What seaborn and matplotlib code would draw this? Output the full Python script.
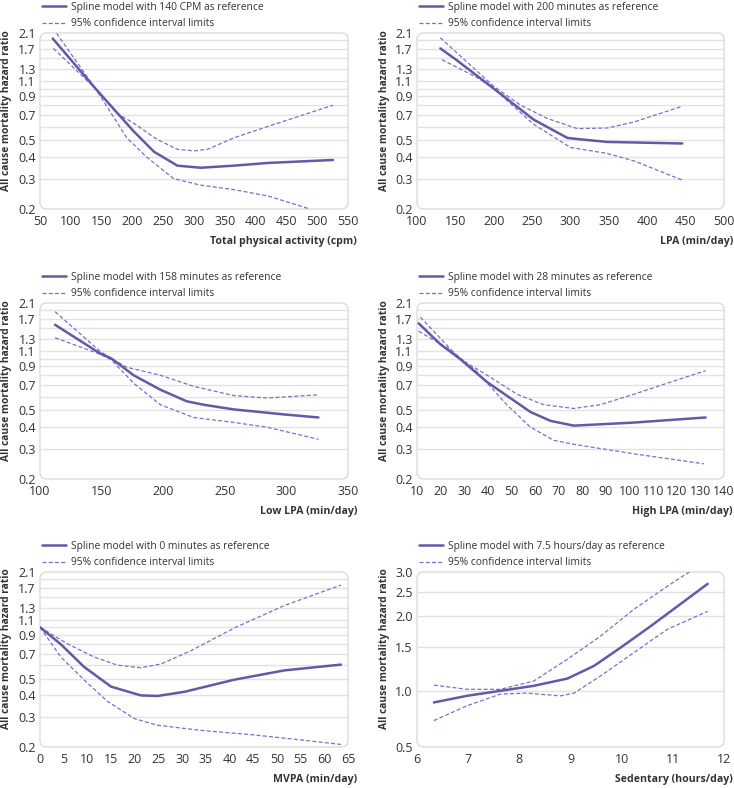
import numpy as np
import pandas as pd
import matplotlib
matplotlib.use("Agg")
import matplotlib.pyplot as plt
import seaborn as sns
from matplotlib.patches import FancyBboxPatch
from matplotlib.ticker import FixedLocator, FixedFormatter, NullLocator

sns.set_theme(style="white")
plt.rcParams['font.family'] = ['Open Sans', 'DejaVu Sans']

# ---------------- data ----------------
# Panel 1: Total physical activity (cpm)
p1_x_main = [70.7, 140, 202, 235, 273, 311, 365, 420, 525.5]
p1_y_main = [1.95, 1.0, 0.565, 0.43, 0.357, 0.347, 0.357, 0.37, 0.385]
p1_x_up = [77, 140, 175, 202, 240, 273, 300, 322, 365, 420, 525.5]
p1_y_up = [2.09, 1.0, 0.718, 0.63, 0.507, 0.444, 0.435, 0.444, 0.518, 0.603, 0.80]
p1_x_lo = [71.7, 140, 191, 224, 267, 311, 365, 420, 479, 487]
p1_y_lo = [1.71, 1.0, 0.517, 0.398, 0.30, 0.275, 0.259, 0.238, 0.205, 0.20]

# Panel 2: LPA (min/day)
p2_x_main = [130.4, 150, 200, 252, 296, 313, 348, 445.7]
p2_y_main = [1.71, 1.48, 1.0, 0.66, 0.517, 0.507, 0.49, 0.48]
p2_x_up = [130.4, 200, 235, 270, 309, 348, 383, 445.7]
p2_y_up = [1.97, 1.03, 0.80, 0.67, 0.585, 0.59, 0.64, 0.79]
p2_x_lo = [132.6, 178, 200, 209, 252, 300, 348, 383, 445.7]
p2_y_lo = [1.47, 1.16, 1.0, 0.92, 0.62, 0.455, 0.42, 0.38, 0.294]

# Panel 3: Low LPA (min/day)
p3_x_main = [112.2, 148.8, 158, 176, 197.6, 219, 232.5, 257, 298, 326]
p3_y_main = [1.57, 1.07, 1.0, 0.80, 0.66, 0.565, 0.54, 0.507, 0.474, 0.455]
p3_x_up = [112.2, 148.8, 158, 170.5, 197.6, 224.7, 257, 284, 326]
p3_y_up = [1.87, 1.1, 1.0, 0.89, 0.80, 0.69, 0.61, 0.59, 0.616]
p3_x_lo = [112.2, 148.8, 158, 176, 197.6, 224.7, 257, 284, 326]
p3_y_lo = [1.32, 1.06, 0.98, 0.72, 0.54, 0.455, 0.426, 0.40, 0.34]

# Panel 4: High LPA (min/day)
p4_x_main = [10.7, 19.9, 28, 39.7, 49.5, 58, 66.5, 76.4, 101.8, 132.2]
p4_y_main = [1.6, 1.21, 1.0, 0.73, 0.59, 0.49, 0.435, 0.408, 0.425, 0.455]
p4_x_up = [11.4, 28, 41, 52.4, 63.6, 76.4, 87.7, 101.8, 116, 132.2]
p4_y_up = [1.74, 1.0, 0.78, 0.62, 0.54, 0.513, 0.54, 0.62, 0.72, 0.85]
p4_x_lo = [10.7, 24, 35.3, 48, 58, 68, 76.4, 101.8, 131.5]
p4_y_lo = [1.44, 1.13, 0.84, 0.54, 0.40, 0.335, 0.318, 0.28, 0.245]

# Panel 5: MVPA (min/day)
p5_x_main = [0, 4.4, 9.3, 15, 21.3, 24.8, 30.5, 41, 51.6, 63.5]
p5_y_main = [1.0, 0.795, 0.587, 0.45, 0.40, 0.397, 0.42, 0.494, 0.56, 0.605]
p5_x_up = [0, 5.8, 11.4, 16.4, 21.3, 25.5, 31.9, 41, 51.6, 63.5]
p5_y_up = [1.0, 0.80, 0.67, 0.60, 0.58, 0.61, 0.73, 0.99, 1.34, 1.76]
p5_x_lo = [0, 4.4, 9.3, 14.2, 19.9, 24.8, 34, 44.6, 55.1, 63.5]
p5_y_lo = [1.0, 0.67, 0.493, 0.37, 0.293, 0.268, 0.25, 0.236, 0.22, 0.207]

# Panel 6: Sedentary (hours/day)
p6_x_main = [6.33, 6.98, 7.63, 8.28, 8.94, 9.46, 9.98, 10.57, 11.22, 11.68]
p6_y_main = [0.904, 0.961, 1.006, 1.053, 1.126, 1.265, 1.497, 1.825, 2.29, 2.69]
p6_x_up = [6.33, 6.98, 7.63, 8.28, 8.94, 9.59, 10.24, 10.89, 11.32]
p6_y_up = [1.06, 1.02, 1.02, 1.10, 1.345, 1.665, 2.13, 2.63, 3.0]
p6_x_lo = [6.33, 6.98, 7.63, 8.15, 8.8, 9.07, 9.59, 10.24, 10.89, 11.68]
p6_y_lo = [0.765, 0.877, 0.976, 0.985, 0.96, 0.985, 1.154, 1.43, 1.77, 2.09]

legend_main = [
    "Spline model with 140 CPM as reference",
    "Spline model with 200 minutes as reference",
    "Spline model with 158 minutes as reference",
    "Spline model with 28 minutes as reference",
    "Spline model with 0 minutes as reference",
    "Spline model with 7.5 hours/day as reference",
]
legend_ci = "95% confidence interval limits"
x_labels = ["Total physical activity (cpm)", "LPA (min/day)", "Low LPA (min/day)",
            "High LPA (min/day)", "MVPA (min/day)", "Sedentary (hours/day)"]
y_label = "All cause mortality hazard ratio"

x_ticks = [
    [50, 100, 150, 200, 250, 300, 350, 400, 450, 500, 550],
    [100, 150, 200, 250, 300, 350, 400, 450, 500],
    [100, 150, 200, 250, 300, 350],
    [10, 20, 30, 40, 50, 60, 70, 80, 90, 100, 110, 120, 130, 140],
    [0, 5, 10, 15, 20, 25, 30, 35, 40, 45, 50, 55, 60, 65],
    [6, 7, 8, 9, 10, 11, 12],
]
hr_ticks = [0.2, 0.3, 0.4, 0.5, 0.7, 0.9, 1.1, 1.3, 1.7, 2.1]
hr_tick_labels = ["0.2", "0.3", "0.4", "0.5", "0.7", "0.9", "1.1", "1.3", "1.7", "2.1"]
hr_grid = [0.3, 0.4, 0.5, 0.6, 0.7, 0.8, 0.9, 1.0, 1.1, 1.3, 1.5, 1.7, 1.9]
sed_ticks = [0.6, 1.0, 1.5, 2.0, 2.5, 3.0]
sed_tick_labels = ["0.5", "1.0", "1.5", "2.0", "2.5", "3.0"]
sed_grid = [1.0, 1.5, 2.0, 2.5]

panels = [
    (p1_x_main, p1_y_main, p1_x_up, p1_y_up, p1_x_lo, p1_y_lo),
    (p2_x_main, p2_y_main, p2_x_up, p2_y_up, p2_x_lo, p2_y_lo),
    (p3_x_main, p3_y_main, p3_x_up, p3_y_up, p3_x_lo, p3_y_lo),
    (p4_x_main, p4_y_main, p4_x_up, p4_y_up, p4_x_lo, p4_y_lo),
    (p5_x_main, p5_y_main, p5_x_up, p5_y_up, p5_x_lo, p5_y_lo),
    (p6_x_main, p6_y_main, p6_x_up, p6_y_up, p6_x_lo, p6_y_lo),
]

# ---------------- layout ----------------
W, H = 734, 788
fig = plt.figure(figsize=(W / 100, H / 100), dpi=100)
fig.patch.set_facecolor("white")

# (left, top, right, bottom) in pixels
boxes = [
    (40, 33, 348, 209), (417, 33, 724, 209),
    (40, 303, 348, 479), (417, 303, 724, 479),
    (40, 572, 348, 747), (417, 572, 724, 747),
]

MAIN_C = "#6857a6"
CI_C = "#7b6fcc"
GRID_C = "#e2e2e6"
TXT_C = "#333333"

for i, (box, data) in enumerate(zip(boxes, panels)):
    l, t, r, b = box
    ax = fig.add_axes([l / W, 1 - b / H, (r - l) / W, (b - t) / H])
    ax.set_facecolor("none")
    xm, ym, xu, yu, xl, yl = data
    df_m = pd.DataFrame({"x": xm, "y": ym})
    df_u = pd.DataFrame({"x": xu, "y": yu})
    df_l = pd.DataFrame({"x": xl, "y": yl})
    sns.lineplot(data=df_m, x="x", y="y", ax=ax, color=MAIN_C, lw=1.8,
                 estimator=None, sort=True, label=legend_main[i], zorder=4)
    sns.lineplot(data=df_u, x="x", y="y", ax=ax, color=CI_C, lw=0.9,
                 estimator=None, sort=True, label=legend_ci, zorder=3)
    sns.lineplot(data=df_l, x="x", y="y", ax=ax, color=CI_C, lw=0.9,
                 estimator=None, sort=True, zorder=3)
    for ln in ax.get_lines()[1:]:
        ln.set_dashes([3.2, 1.8])
    ax.set_yscale("log")
    xt = x_ticks[i]
    ax.set_xlim(xt[0], xt[-1])
    if i < 5:
        ax.set_ylim(0.2, 2.1)
        ticks, tlabels, grid = hr_ticks, hr_tick_labels, hr_grid
    else:
        ax.set_ylim(0.6, 3.0)
        ticks, tlabels, grid = sed_ticks, sed_tick_labels, sed_grid
    for g in grid:
        ax.axhline(g, color=GRID_C, lw=1.0, zorder=1)
    ax.yaxis.set_major_locator(FixedLocator(ticks))
    ax.yaxis.set_major_formatter(FixedFormatter(tlabels))
    ax.yaxis.set_minor_locator(NullLocator())
    ax.set_xticks(xt)
    ax.set_xticklabels([str(v) for v in xt])
    ax.tick_params(axis="y", length=0, pad=3, labelsize=9, labelcolor=TXT_C)
    ax.tick_params(axis="x", direction="in", length=3, width=0.8, color="#c8c8c8",
                   pad=4, labelsize=9, labelcolor=TXT_C)
    for sp in ax.spines.values():
        sp.set_visible(False)
    # rounded frame
    aw, ah = (r - l), (b - t)
    patch = FancyBboxPatch((0, 0), 1, 1,
                           boxstyle="round,pad=0,rounding_size=0.022",
                           mutation_aspect=aw / ah,
                           transform=ax.transAxes, facecolor="none",
                           edgecolor="#dcdce0", lw=1.0, clip_on=False, zorder=0)
    ax.add_patch(patch)
    ax.set_ylabel(y_label, fontsize=7.4, fontweight="bold", color=TXT_C, va="center")
    ax.yaxis.set_label_coords(-33 / aw, 0.56)
    ax.set_xlabel(x_labels[i], fontsize=7.6, fontweight="bold", color=TXT_C, ha="right")
    ax.xaxis.set_label_coords(1 + 9 / aw, -27 / ah)
    leg = ax.legend(loc="lower left", bbox_to_anchor=(-0.005, 1.0), frameon=False,
                    fontsize=7.4, borderaxespad=0.35, borderpad=0, handlelength=2.3,
                    handletextpad=0.5, labelspacing=0.55)
    for txt in leg.get_texts():
        txt.set_color(TXT_C)

fig.savefig("out.png", dpi=100, facecolor="white")
